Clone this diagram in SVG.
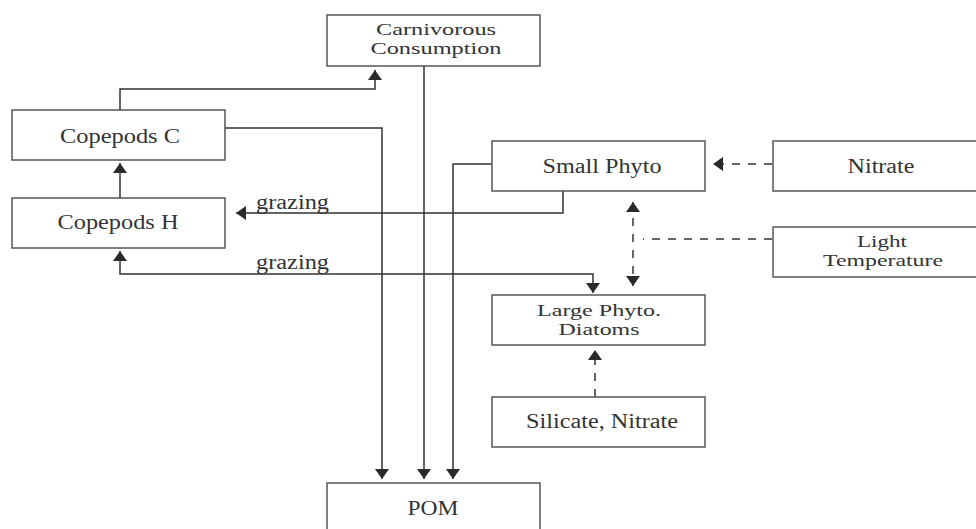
<svg xmlns="http://www.w3.org/2000/svg" width="976" height="529" viewBox="0 0 976 529">
<defs>
<marker id="ah" markerUnits="userSpaceOnUse" markerWidth="11" markerHeight="14" refX="10" refY="7" orient="auto-start-reverse">
<path d="M0,0 L10,7 L0,14 z" fill="#2a2a2a"/>
</marker>
<style>
.box{fill:#fff;stroke:#555;stroke-width:1.5}
.t{font-family:"Liberation Serif","Times New Roman",serif;font-size:20px;fill:#333;text-anchor:middle}
.t2{font-family:"Liberation Serif","Times New Roman",serif;font-size:17px;fill:#333;text-anchor:middle}
.tl{font-family:"Liberation Serif","Times New Roman",serif;font-size:20px;fill:#333}
.c{fill:none;stroke:#333;stroke-width:1.5}
.d{fill:none;stroke:#333;stroke-width:1.5;stroke-dasharray:8 8}
</style>
</defs>
<rect width="976" height="529" fill="#fff"/>
<g id="connectors">
<path class="c" d="M120,110 V89 H375 V70" marker-end="url(#ah)"/>
<path class="c" d="M120,198 V163" marker-end="url(#ah)"/>
<path class="c" d="M225,128 H382 V479" marker-end="url(#ah)"/>
<path class="c" d="M424,66 V479" marker-end="url(#ah)"/>
<path class="c" d="M492,164 H453 V479" marker-end="url(#ah)"/>
<path class="c" d="M563,191 V213 H236" marker-end="url(#ah)"/>
<path class="c" d="M120,251 V274 H593 V293" marker-start="url(#ah)" marker-end="url(#ah)"/>
<path class="d" d="M772,164 H713" marker-end="url(#ah)"/>
<path class="d" d="M633,202 V286" marker-start="url(#ah)" marker-end="url(#ah)"/>
<path class="d" d="M772,239 H643"/>
<path class="d" d="M595,397 V350" marker-end="url(#ah)"/>
<text class="tl" x="256" y="209" textLength="73" lengthAdjust="spacingAndGlyphs">grazing</text>
<text class="tl" x="256" y="269" textLength="73" lengthAdjust="spacingAndGlyphs">grazing</text>
</g>
<g id="carnivorous">
<rect class="box" x="327" y="15" width="213" height="51"/>
<text class="t2" x="436" y="35" textLength="120" lengthAdjust="spacingAndGlyphs">Carnivorous</text>
<text class="t2" x="436" y="54" textLength="131" lengthAdjust="spacingAndGlyphs">Consumption</text>
</g>
<g id="copepods-c">
<rect class="box" x="12" y="110" width="213" height="50"/>
<text class="t" x="120" y="143" textLength="120" lengthAdjust="spacingAndGlyphs">Copepods C</text>
</g>
<g id="copepods-h">
<rect class="box" x="12" y="198" width="213" height="50"/>
<text class="t" x="118" y="229" textLength="121" lengthAdjust="spacingAndGlyphs">Copepods H</text>
</g>
<g id="small-phyto">
<rect class="box" x="492" y="141" width="213" height="50"/>
<text class="t" x="602" y="173" textLength="119" lengthAdjust="spacingAndGlyphs">Small Phyto</text>
</g>
<g id="nitrate">
<rect class="box" x="773" y="141" width="215" height="50"/>
<text class="t" x="881" y="173" textLength="67" lengthAdjust="spacingAndGlyphs">Nitrate</text>
</g>
<g id="light-temperature">
<rect class="box" x="773" y="227" width="215" height="50"/>
<text class="t2" x="882" y="247" textLength="50" lengthAdjust="spacingAndGlyphs">Light</text>
<text class="t2" x="883" y="266" textLength="120" lengthAdjust="spacingAndGlyphs">Temperature</text>
</g>
<g id="large-phyto">
<rect class="box" x="492" y="295" width="213" height="50"/>
<text class="t2" x="599" y="316" textLength="124" lengthAdjust="spacingAndGlyphs">Large Phyto.</text>
<text class="t2" x="599" y="335" textLength="81" lengthAdjust="spacingAndGlyphs">Diatoms</text>
</g>
<g id="silicate-nitrate">
<rect class="box" x="492" y="397" width="213" height="50"/>
<text class="t" x="602" y="428" textLength="152" lengthAdjust="spacingAndGlyphs">Silicate, Nitrate</text>
</g>
<g id="pom">
<rect class="box" x="327" y="483" width="213" height="60"/>
<text class="t" x="433" y="515" textLength="51" lengthAdjust="spacingAndGlyphs">POM</text>
</g>
</svg>
